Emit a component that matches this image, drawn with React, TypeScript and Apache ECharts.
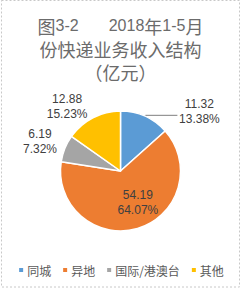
import React, { useEffect, useRef } from "react";
import * as echarts from "echarts";

const categories = ["同城", "异地", "国际/港澳台", "其他"];
const values = [11.32, 54.19, 6.19, 12.88];
const colors = ["#5B9BD5", "#ED7D31", "#A5A5A5", "#FFC000"];

export default function App() {
  const ref = useRef<HTMLDivElement>(null);
  useEffect(() => {
    document.body.style.margin = "0";
    const chart = echarts.init(ref.current!, null, { renderer: "svg" });
    const labelCfg = [
      { labelLine: { show: true, length: 1, length2: 32, lineStyle: { color: "#7f7f7f", width: 1 } }, label: { padding: [0, 0, 8, 0] } },
      { labelLine: { show: false }, label: { position: "inside", offset: [8, 0] } },
      { labelLine: { show: false, length: 2, length2: 1 }, label: { padding: [0, 0, 12, 0] } },
      { labelLine: { show: false, length: 6, length2: 1 }, label: { padding: [0, 0, 12, 0] } },
    ];
    const data = categories.map((name, i) => ({
      name,
      value: values[i],
      itemStyle: { color: colors[i] },
      labelLine: labelCfg[i].labelLine,
      label: labelCfg[i].label,
    }));
    chart.setOption({
      animation: false,
      title: {
        left: "center",
        top: 9,
        text: "{c|图}{n|3-2}      {n|2018}{c|年}{n|1-5}{c|月}\n{c|份快递业务收入结构}\n{c|（亿元）}",
        textStyle: {
          color: "#6b6b6b",
          fontWeight: "normal",
          lineHeight: 23,
          rich: {
            c: { fontFamily: "Noto Sans CJK SC", fontSize: 18, fontWeight: "normal", color: "#6b6b6b", lineHeight: 23 },
            n: { fontFamily: "Liberation Sans", fontSize: 16, fontWeight: "normal", color: "#6b6b6b", lineHeight: 23 },
          },
        },
      },
      legend: {
        bottom: 8,
        left: "center",
        icon: "rect",
        itemWidth: 6,
        itemHeight: 6,
        itemGap: 10,
        data: categories,
        textStyle: { color: "#595959", fontSize: 12, fontFamily: "Noto Sans CJK SC", padding: [0, 0, 0, -2] },
      },
      graphic: [
        {
          type: "rect",
          shape: { x: 1.5, y: 0.5, width: 238, height: 286.5 },
          style: { fill: "none", stroke: "#c8c8c8", lineWidth: 1, lineDash: [2, 2] },
          silent: true,
        },
      ],
      series: [
        {
          type: "pie",
          center: [120.5, 171],
          radius: 60,
          startAngle: 90,
          clockwise: true,
          itemStyle: { borderColor: "#fff", borderWidth: 1.5 },
          label: {
            show: true,
            formatter: "{v|{c}}\n{v|{d}%}",
            distanceToLabelLine: 1,
            rich: {
              v: { width: 42, align: "center", fontFamily: "Liberation Sans", fontSize: 12, color: "#404040", lineHeight: 15 },
            },
          },
          labelLine: { length: 5, length2: 2 },
          data,
        },
      ],
    });
    return () => chart.dispose();
  }, []);
  return <div ref={ref} style={{ width: 241, height: 289 }} />;
}
